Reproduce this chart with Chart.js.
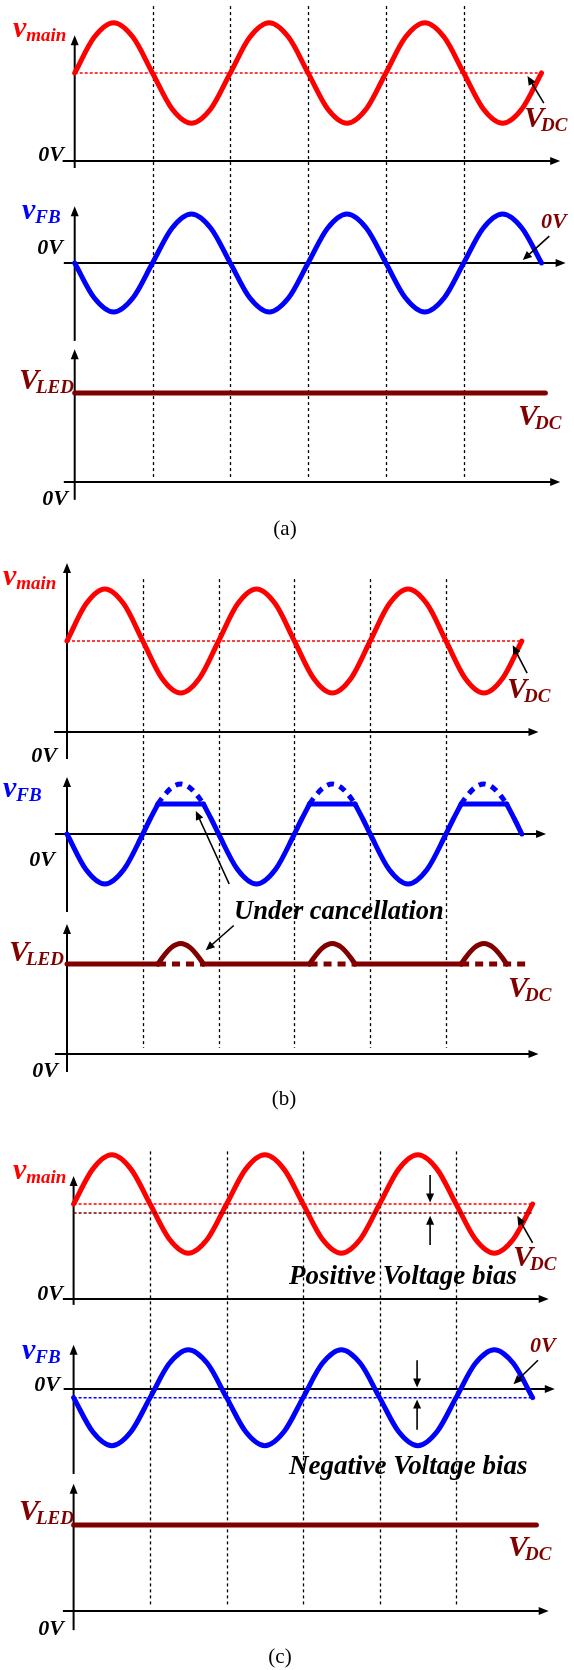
<!DOCTYPE html>
<html>
<head>
<meta charset="utf-8">
<script src="https://cdn.jsdelivr.net/npm/chart.js@4.4.0/dist/chart.umd.min.js"></script>
<style>
  html, body { margin: 0; padding: 0; background: #fff; }
  canvas { display: block; }
</style>
</head>
<body>
<canvas id="waves" width="574" height="1670"></canvas>
<script>
// time is counted in half periods of the mains ripple
const tHalf = [0, 0.25, 0.5, 0.75, 1, 1.25, 1.5, 1.75, 2, 2.25, 2.5, 2.75, 3,
  3.25, 3.5, 3.75, 4, 4.25, 4.5, 4.75, 5, 5.25, 5.5, 5.75, 6];
const tFlat = [0, 6];
const guideTimes = [1, 2, 3, 4, 5];

// (a) ideal cancellation, also the v_main of (b)
const vMain = [1.75, 2.46, 2.75, 2.46, 1.75, 1.04, 0.75, 1.04, 1.75, 2.46, 2.75, 2.46,
  1.75, 1.04, 0.75, 1.04, 1.75, 2.46, 2.75, 2.46, 1.75, 1.04, 0.75, 1.04, 1.75];
const vFb = [0, -0.71, -1, -0.71, 0, 0.71, 1, 0.71, 0, -0.71, -1, -0.71, 0,
  0.71, 1, 0.71, 0, -0.71, -1, -0.71, 0, 0.71, 1, 0.71, 0];
const vDc = [1.75, 1.75];
const tLed = [0, 6.05];
const vLed = [1.75, 1.75];

// (b) feedback amplifier saturates on the positive half cycles
const tFbClip = [0, 0.25, 0.5, 0.75, 1, 1.1, 1.2, 1.8, 1.9, 2, 2.25, 2.5, 2.75, 3,
  3.1, 3.2, 3.8, 3.9, 4, 4.25, 4.5, 4.75, 5, 5.1, 5.2, 5.8, 5.9, 6];
const vFbClip = [0, -0.71, -1, -0.71, 0, 0.31, 0.6, 0.6, 0.31, 0, -0.71, -1, -0.71, 0,
  0.31, 0.6, 0.6, 0.31, 0, -0.71, -1, -0.71, 0, 0.31, 0.6, 0.6, 0.31, 0];
const clipKnees = [1.2, 1.8, 3.2, 3.8, 5.2, 5.8];
const tLost = [1.2, 1.25, 1.375, 1.5, 1.625, 1.75, 1.8, 2.5, 3.2, 3.25, 3.375, 3.5,
  3.625, 3.75, 3.8, 4.5, 5.2, 5.25, 5.375, 5.5, 5.625, 5.75, 5.8];
const vLost = [0.6, 0.71, 0.92, 1, 0.92, 0.71, 0.6, null, 0.6, 0.71, 0.92, 1,
  0.92, 0.71, 0.6, null, 0.6, 0.71, 0.92, 1, 0.92, 0.71, 0.6];
const tLedB = [0, 1.2, 1.25, 1.375, 1.5, 1.625, 1.75, 1.8, 3.2, 3.25, 3.375, 3.5,
  3.625, 3.75, 3.8, 5.2, 5.25, 5.375, 5.5, 5.625, 5.75, 5.8];
const vLedB = [1.75, 1.75, 1.86, 2.07, 2.15, 2.07, 1.86, 1.75, 1.75, 1.86, 2.07, 2.15,
  2.07, 1.86, 1.75, 1.75, 1.86, 2.07, 2.15, 2.07, 1.86, 1.75];
const tLedDash = [1.2, 1.8, 2.5, 3.2, 3.8, 4.5, 5.2, 6.05];
const vLedDash = [1.75, 1.75, null, 1.75, 1.75, null, 1.75, 1.75];

// (c) offset error: v_main sits above V_DC, v_FB below 0 V
const vMainC = [1.93, 2.64, 2.93, 2.64, 1.93, 1.22, 0.93, 1.22, 1.93, 2.64, 2.93, 2.64,
  1.93, 1.22, 0.93, 1.22, 1.93, 2.64, 2.93, 2.64, 1.93, 1.22, 0.93, 1.22, 1.93];
const vFbC = [-0.18, -0.89, -1.18, -0.89, -0.18, 0.53, 0.82, 0.53, -0.18, -0.89, -1.18, -0.89,
  -0.18, 0.53, 0.82, 0.53, -0.18, -0.89, -1.18, -0.89, -0.18, 0.53, 0.82, 0.53, -0.18];
const vMeanC = [1.93, 1.93];
const vFbMeanC = [-0.18, -0.18];

const RED = '#ff0000', BLUE = '#0000ff', MAROON = '#800000', INK = '#000000';
const SERIF = '"Liberation Serif", "Times New Roman", serif';
const W = 574, H = 1670;

// pixel placement of each panel: x origin / px per half period, and per trace 0 V line / px per unit
const frame = {
  a: { x0: 74.7, dx: 77.8, main: [161, 50.3], fb: [263, 49], led: [482, 50.9] },
  b: { x0: 67, dx: 75.8, main: [732, 52], fb: [834, 50], led: [1054, 51.4] },
  c: { x0: 73.6, dx: 76.5, main: [1299, 49.2], fb: [1389, 48], led: [1611, 49.1] }
};
// extent of the drawn axes, in the units of each trace
const axisSpan = {
  amain: [-0.14, 2.5, -0.155, 6.24], afb: [-1.59, 1.16, -0.14, 6.31], aled: [-0.35, 2.61, -0.14, 6.24],
  bmain: [-0.52, 3.25, -0.17, 6.22], bfb: [-1.56, 1.14, -0.16, 6.32], bled: [-0.35, 2.53, -0.16, 6.22],
  cmain: [-0.12, 2.5, -0.14, 6.21], cfb: [-1.77, 0.92, -0.13, 6.29], cled: [-0.39, 2.59, -0.14, 6.21]
};
const guideSpan = { a: [3.08, 0.1], b: [2.94, 0.12], c: [3.0, 0.1] };

const scales = {};
for (const p of ['a', 'b', 'c']) {
  const f = frame[p];
  scales['x' + p] = { type: 'linear', display: false, min: -f.x0 / f.dx, max: (W - f.x0) / f.dx };
  for (const s of ['main', 'fb', 'led']) {
    const [z, u] = f[s];
    scales[p + s] = { type: 'linear', display: false, min: (z - H) / u, max: z / u };
  }
}

// split a trace into separately smoothed pieces: at nulls and at sharp corners
function pieces(t, v, knees) {
  const out = [];
  let cur = [];
  t.forEach((x, i) => {
    if (v[i] === null) {
      if (cur.length) out.push(cur);
      cur = [];
      return;
    }
    cur.push({ x: x, y: v[i] });
    if (knees && knees.includes(x) && cur.length > 1) {
      out.push(cur);
      cur = [{ x: x, y: v[i] }];
    }
  });
  if (cur.length > 1) out.push(cur);
  return out;
}

const datasets = [];
function trace(p, s, t, v, style, knees) {
  for (const part of pieces(t, v, knees)) {
    datasets.push(Object.assign({
      data: part,
      xAxisID: 'x' + p,
      yAxisID: p + s,
      pointRadius: 0,
      borderWidth: 5,
      borderCapStyle: 'round',
      borderJoinStyle: 'round',
      cubicInterpolationMode: 'monotone',
      fill: false
    }, style));
  }
}
const thin = (color, dash) => ({ borderColor: color, borderWidth: 1.5, borderDash: dash, borderCapStyle: 'butt' });

// (a)
trace('a', 'main', tFlat, vDc, thin(RED, [3, 2]));
trace('a', 'main', tHalf, vMain, { borderColor: RED });
trace('a', 'fb', tHalf, vFb, { borderColor: BLUE });
trace('a', 'led', tLed, vLed, { borderColor: MAROON });
// (b)
trace('b', 'main', tFlat, vDc, thin(RED, [3, 2]));
trace('b', 'main', tHalf, vMain, { borderColor: RED });
trace('b', 'fb', tLost, vLost, { borderColor: BLUE, borderDash: [7, 6], borderCapStyle: 'butt' });
trace('b', 'fb', tFbClip, vFbClip, { borderColor: BLUE }, clipKnees);
trace('b', 'led', tLedDash, vLedDash, { borderColor: MAROON, borderDash: [8, 6], borderCapStyle: 'butt' });
trace('b', 'led', tLedB, vLedB, { borderColor: MAROON }, clipKnees);
// (c)
trace('c', 'main', tFlat, vMeanC, thin(RED, [3, 2]));
trace('c', 'main', tFlat, vDc, thin(MAROON, [3, 2]));
trace('c', 'main', tHalf, vMainC, { borderColor: RED });
trace('c', 'fb', tFlat, vFbMeanC, thin(BLUE, [3, 2]));
trace('c', 'fb', tHalf, vFbC, { borderColor: BLUE });
trace('c', 'led', tLed, vLed, { borderColor: MAROON });

const pointers = [
  { p: 'a', s: 'main', from: [6.03, 1.15], to: [5.82, 1.69] },
  { p: 'a', s: 'fb', from: [6.10, 0.55], to: [5.76, 0.06] },
  { p: 'b', s: 'main', from: [6.07, 1.13], to: [5.88, 1.67] },
  { p: 'b', s: 'fb', from: [2.14, -1.0], to: [1.70, 0.46] },
  { p: 'b', s: 'led', from: [2.2, 2.5], to: [1.83, 2.02] },
  { p: 'c', s: 'main', from: [6.0, 1.14], to: [5.8, 1.69] },
  { p: 'c', s: 'main', from: [4.66, 2.52], to: [4.66, 1.96] },
  { p: 'c', s: 'main', from: [4.66, 1.1], to: [4.66, 1.69] },
  { p: 'c', s: 'fb', from: [4.49, 0.6], to: [4.49, 0.03] },
  { p: 'c', s: 'fb', from: [4.49, -0.85], to: [4.49, -0.22] },
  { p: 'c', s: 'fb', from: [6.07, 0.6], to: [5.75, 0.1] }
];

// signal names: main letter, subscript, colour, left x and baseline
const names = [
  ['v', 'main', RED, 13, 37], ['v', 'FB', BLUE, 22, 219], ['V', 'LED', MAROON, 19, 389],
  ['V', 'DC', MAROON, 524, 127], ['V', 'DC', MAROON, 518, 425],
  ['v', 'main', RED, 3, 585], ['v', 'FB', BLUE, 3, 797], ['V', 'LED', MAROON, 9, 961],
  ['V', 'DC', MAROON, 507, 698], ['V', 'DC', MAROON, 508, 997],
  ['v', 'main', RED, 13, 1179], ['v', 'FB', BLUE, 22, 1359], ['V', 'LED', MAROON, 19, 1520],
  ['V', 'DC', MAROON, 513, 1266], ['V', 'DC', MAROON, 508, 1556]
];
// plain labels: text, colour, x, baseline, size, align, style
const texts = [
  ['0V', INK, 64, 161, 22, 'right', 'bold italic'], ['0V', INK, 63, 254, 22, 'right', 'bold italic'],
  ['0V', MAROON, 541, 228, 22, 'left', 'bold italic'], ['0V', INK, 68, 505, 22, 'right', 'bold italic'],
  ['(a)', INK, 285, 535, 21, 'center', ''],
  ['0V', INK, 57, 762, 22, 'right', 'bold italic'], ['0V', INK, 55, 866, 22, 'right', 'bold italic'],
  ['Under cancellation', INK, 234, 919, 26.5, 'left', 'bold italic'],
  ['0V', INK, 58, 1077, 22, 'right', 'bold italic'], ['(b)', INK, 284, 1105, 21, 'center', ''],
  ['Positive Voltage bias', INK, 289, 1284, 27, 'left', 'bold italic'],
  ['0V', INK, 63, 1300, 22, 'right', 'bold italic'], ['0V', INK, 60, 1391, 22, 'right', 'bold italic'],
  ['0V', MAROON, 530, 1352, 22, 'left', 'bold italic'],
  ['Negative Voltage bias', INK, 289, 1474, 27, 'left', 'bold italic'],
  ['0V', INK, 64, 1635, 22, 'right', 'bold italic'], ['(c)', INK, 280, 1663, 21, 'center', '']
];

function arrowHead(ctx, x1, y1, x2, y2, len, half) {
  const a = Math.atan2(y2 - y1, x2 - x1);
  const c = Math.cos(a), s = Math.sin(a);
  ctx.beginPath();
  ctx.moveTo(x1, y1);
  ctx.lineTo(x2 - c * len * 0.7, y2 - s * len * 0.7);
  ctx.stroke();
  ctx.beginPath();
  ctx.moveTo(x2, y2);
  ctx.lineTo(x2 - c * len - s * half, y2 - s * len + c * half);
  ctx.lineTo(x2 - c * len + s * half, y2 - s * len - c * half);
  ctx.closePath();
  ctx.fill();
}

const axesPlugin = {
  id: 'scopeAxes',
  beforeDatasetsDraw(chart) {
    const ctx = chart.ctx;
    ctx.save();
    ctx.strokeStyle = INK;
    ctx.fillStyle = INK;
    // dotted markers at the zero crossings
    ctx.lineWidth = 1.3;
    ctx.setLineDash([3, 3]);
    for (const p of ['a', 'b', 'c']) {
      const xs = chart.scales['x' + p];
      const top = chart.scales[p + 'main'].getPixelForValue(guideSpan[p][0]);
      const bot = chart.scales[p + 'led'].getPixelForValue(guideSpan[p][1]);
      for (const t of guideTimes) {
        const x = Math.round(xs.getPixelForValue(t)) + 0.5;
        ctx.beginPath();
        ctx.moveTo(x, top);
        ctx.lineTo(x, bot);
        ctx.stroke();
      }
    }
    ctx.setLineDash([]);
    // axes with arrow tips
    ctx.lineWidth = 2;
    for (const key of Object.keys(axisSpan)) {
      const xs = chart.scales['x' + key[0]];
      const ys = chart.scales[key];
      const [vb, vt, tl, tr] = axisSpan[key];
      const x0 = xs.getPixelForValue(0), y0 = ys.getPixelForValue(0);
      arrowHead(ctx, x0, ys.getPixelForValue(vb), x0, ys.getPixelForValue(vt), 10, 4);
      arrowHead(ctx, xs.getPixelForValue(tl), y0, xs.getPixelForValue(tr), y0, 10, 4);
    }
    ctx.restore();
  },
  afterDatasetsDraw(chart) {
    const ctx = chart.ctx;
    ctx.save();
    ctx.strokeStyle = INK;
    ctx.fillStyle = INK;
    ctx.lineWidth = 1.6;
    for (const a of pointers) {
      const xs = chart.scales['x' + a.p], ys = chart.scales[a.p + a.s];
      arrowHead(ctx, xs.getPixelForValue(a.from[0]), ys.getPixelForValue(a.from[1]),
        xs.getPixelForValue(a.to[0]), ys.getPixelForValue(a.to[1]), 9, 4);
    }
    ctx.textBaseline = 'alphabetic';
    for (const [big, small, color, x, y] of names) {
      ctx.fillStyle = color;
      ctx.textAlign = 'left';
      ctx.font = 'bold italic 30px ' + SERIF;
      ctx.fillText(big, x, y);
      const w = ctx.measureText(big).width;
      ctx.font = 'bold italic 19px ' + SERIF;
      ctx.fillText(small, x + w + (big === 'V' ? -3 : 0), y + 4);
    }
    for (const [txt, color, x, y, size, align, style] of texts) {
      ctx.fillStyle = color;
      ctx.textAlign = align;
      ctx.font = (style ? style + ' ' : '') + size + 'px ' + SERIF;
      ctx.fillText(txt, x, y);
    }
    ctx.restore();
  }
};

new Chart(document.getElementById('waves').getContext('2d'), {
  type: 'line',
  data: { datasets: datasets },
  options: {
    responsive: false,
    animation: false,
    devicePixelRatio: 1,
    layout: { padding: 0 },
    scales: scales,
    plugins: { legend: { display: false }, tooltip: { enabled: false } },
    events: []
  },
  plugins: [axesPlugin]
});
</script>
</body>
</html>
